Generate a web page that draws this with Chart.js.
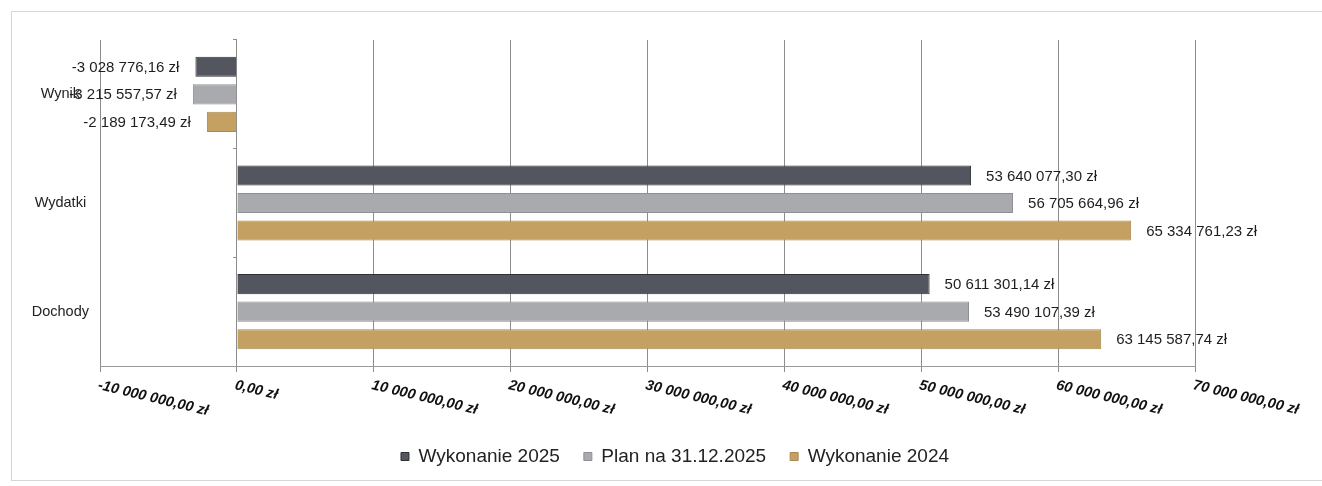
<!DOCTYPE html>
<html><head><meta charset="utf-8">
<script src="https://cdn.jsdelivr.net/npm/chart.js@4.4.1/dist/chart.umd.min.js"></script>
<style>
html,body{margin:0;padding:0;background:#fff;}
#wrap{position:relative;width:1322px;height:486px;overflow:hidden;}
#frame{position:absolute;left:11px;top:11px;width:1330px;height:468px;border:1px solid #d6d6d6;}
canvas{position:absolute;left:0;top:0;}
</style></head><body>
<div id="wrap"><div id="frame"></div><canvas id="c" width="1322" height="486"></canvas></div>
<script>
const categories = ['Wynik', 'Wydatki', 'Dochody'];
const seriesNames = ['Wykonanie 2025', 'Plan na 31.12.2025', 'Wykonanie 2024'];
const wykonanie2025 = [-3028776.16, 53640077.30, 50611301.14];
const plan2025 = [-3215557.57, 56705664.96, 53490107.39];
const wykonanie2024 = [-2189173.49, 65334761.23, 63145587.74];
const tickValues = [-10000000, 0, 10000000, 20000000, 30000000, 40000000, 50000000, 60000000, 70000000];
const tickLabels = ['-10 000 000,00 zł', '0,00 zł', '10 000 000,00 zł', '20 000 000,00 zł', '30 000 000,00 zł',
                    '40 000 000,00 zł', '50 000 000,00 zł', '60 000 000,00 zł', '70 000 000,00 zł'];

function fmt(v) {
  const neg = v < 0;
  const s = Math.abs(v).toFixed(2);
  const [ip, dp] = s.split('.');
  const grouped = ip.replace(/\B(?=(\d{3})+(?!\d))/g, ' ');
  return (neg ? '-' : '') + grouped + ',' + dp + ' zł';
}

const FONT = '"Liberation Sans", Arial, sans-serif';

const valueLabelPlugin = {
  id: 'valueLabels',
  afterDraw(chart) {
    const ctx = chart.ctx;
    ctx.save();
    ctx.font = '15px ' + FONT;
    ctx.fillStyle = '#1e1e1e';
    ctx.textBaseline = 'middle';
    chart.data.datasets.forEach((ds, i) => {
      chart.getDatasetMeta(i).data.forEach((bar, j) => {
        const v = ds.data[j];
        if (v >= 0) { ctx.textAlign = 'left'; ctx.fillText(fmt(v), bar.x + 15, bar.y + 1); }
        else { ctx.textAlign = 'right'; ctx.fillText(fmt(v), bar.x - 16, bar.y + 1); }
      });
    });
    const xs = chart.scales.x;
    ctx.font = 'italic bold 14.5px ' + FONT;
    ctx.fillStyle = '#111';
    ctx.textAlign = 'left';
    ctx.textBaseline = 'top';
    tickValues.forEach((v, k) => {
      const px = xs.getPixelForValue(v);
      ctx.save();
      ctx.translate(px, xs.top + 12);
      ctx.rotate(13.5 * Math.PI / 180);
      ctx.fillText(tickLabels[k], 0, 0);
      ctx.restore();
    });
    ctx.restore();
  }
};

const barCommon = { borderWidth: 1, categoryPercentage: 0.76, barPercentage: 0.73 };

new Chart(document.getElementById('c'), {
  type: 'bar',
  data: {
    labels: categories,
    datasets: [
      Object.assign({ label: seriesNames[0], data: wykonanie2025, backgroundColor: '#53565e', borderColor: '#2e3035' }, barCommon),
      Object.assign({ label: seriesNames[1], data: plan2025, backgroundColor: '#a8aaad', borderColor: '#8d8f93' }, barCommon),
      Object.assign({ label: seriesNames[2], data: wykonanie2024, backgroundColor: '#c4a063', borderColor: '#a98a52' }, barCommon)
    ]
  },
  options: {
    indexAxis: 'y',
    responsive: false,
    animation: false,
    devicePixelRatio: 1,
    layout: { padding: { top: 40, right: 0, bottom: 10, left: 28 } },
    scales: {
      x: {
        type: 'linear', min: -10000000, max: 70000000,
        ticks: { stepSize: 10000000, display: false },
        grid: { color: '#8c8c8c', lineWidth: 1, drawTicks: true, tickLength: 6 },
        border: { display: true, color: '#9a9a9a' },
        afterFit: s => { s.height = 57; }
      },
      y: {
        type: 'category', position: 'left',
        grid: { display: false, drawTicks: false },
        border: { display: false },
        ticks: { font: { family: FONT, size: 14.5 }, color: '#222', crossAlign: 'center', padding: 11 },
        afterFit: s => { s.width = 72; }
      },
      y2: {
        type: 'category', position: { x: 0 }, offset: true,
        grid: { offset: true, drawOnChartArea: false, drawTicks: true, tickLength: 4, color: '#8c8c8c' },
        border: { display: false },
        ticks: { display: false }
      },
      yRight: {
        type: 'category', position: 'right',
        grid: { display: false, drawTicks: false },
        border: { display: false },
        ticks: { display: false },
        afterFit: s => { s.width = 127; }
      }
    },
    plugins: {
      legend: {
        position: 'bottom',
        labels: { boxWidth: 8, boxHeight: 8, padding: 24, color: '#222', font: { family: FONT, size: 19 } }
      },
      tooltip: { enabled: false }
    }
  },
  plugins: [valueLabelPlugin]
});
</script>
</body></html>
